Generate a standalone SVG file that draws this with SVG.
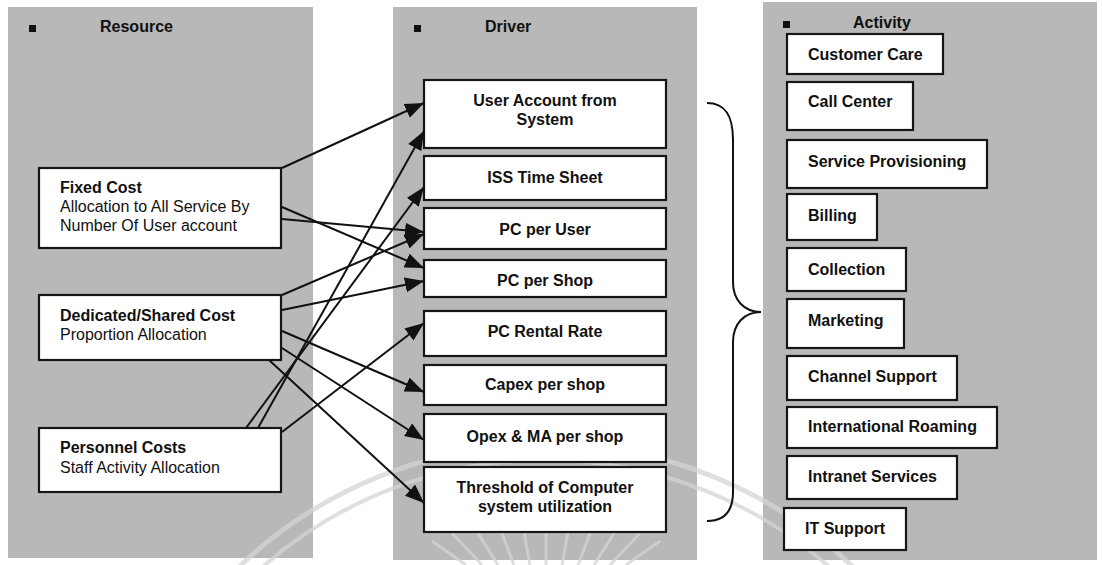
<svg xmlns="http://www.w3.org/2000/svg" width="1103" height="565" viewBox="0 0 1103 565">
  <style>
    .panel { fill: #b8b8b8; }
    .box { fill: #ffffff; stroke: #161616; stroke-width: 2.2; }
    .t { font-family: "Liberation Sans", Arial, sans-serif; font-size: 16px; fill: #111; }
    .b { font-weight: bold; }
    .c { text-anchor: middle; }
    .link { fill: none; stroke: #111; stroke-width: 2; marker-end: url(#arrow); }
    .brace { fill: none; stroke: #111; stroke-width: 2; }
    .bullet { fill: #111; }
    .seal { fill: none; stroke: #d4d4d4; opacity: 0.75; }
  </style>
  <defs>
    <marker id="arrow" markerUnits="userSpaceOnUse" markerWidth="20" markerHeight="16" refX="19" refY="7.5" orient="auto">
      <path d="M0,0 L19,7.5 L0,15 z" fill="#111"/>
    </marker>
  </defs>

  <rect width="1103" height="565" fill="#ffffff"/>

  <!-- column backgrounds -->
  <rect class="panel" x="8" y="7" width="305" height="551"/>
  <rect class="panel" x="393" y="7" width="304" height="553"/>
  <rect class="panel" x="763" y="2" width="334" height="558"/>

  <!-- faint seal printed across the lower part of the sheet -->
  <g id="seal">
    <circle class="seal" cx="546" cy="889" r="445" stroke-width="5"/>
    <circle class="seal" cx="546" cy="889" r="429" stroke-width="4"/>
    <g class="seal" stroke-width="3">
      <line x1="546" y1="565" x2="546" y2="520"/>
      <line x1="530" y1="565" x2="522" y2="521"/>
      <line x1="514" y1="565" x2="498" y2="523"/>
      <line x1="498" y1="565" x2="474" y2="527"/>
      <line x1="482" y1="565" x2="452" y2="533"/>
      <line x1="466" y1="565" x2="432" y2="541"/>
      <line x1="562" y1="565" x2="570" y2="521"/>
      <line x1="578" y1="565" x2="594" y2="523"/>
      <line x1="594" y1="565" x2="618" y2="527"/>
      <line x1="610" y1="565" x2="640" y2="533"/>
      <line x1="626" y1="565" x2="660" y2="541"/>
    </g>
  </g>

  <!-- column headers -->
  <g id="header-resource">
    <rect class="bullet" x="29" y="25" width="7" height="7"/>
    <text class="t b" x="100" y="32">Resource</text>
  </g>
  <g id="header-driver">
    <rect class="bullet" x="414" y="25" width="7" height="7"/>
    <text class="t b" x="485" y="32">Driver</text>
  </g>
  <g id="header-activity">
    <rect class="bullet" x="783" y="21" width="7" height="7"/>
    <text class="t b" x="853" y="28">Activity</text>
  </g>

  <!-- resources -->
  <g id="fixed-cost">
    <rect class="box" x="39" y="168" width="242" height="80"/>
    <text class="t b" x="60" y="193">Fixed Cost</text>
    <text class="t" x="60" y="212">Allocation to All Service By</text>
    <text class="t" x="60" y="231">Number Of User account</text>
  </g>
  <g id="dedicated-shared-cost">
    <rect class="box" x="39" y="295" width="242" height="65"/>
    <text class="t b" x="60" y="321">Dedicated/Shared Cost</text>
    <text class="t" x="60" y="340">Proportion Allocation</text>
  </g>
  <g id="personnel-costs">
    <rect class="box" x="39" y="428" width="242" height="64"/>
    <text class="t b" x="60" y="453">Personnel Costs</text>
    <text class="t" x="60" y="473">Staff Activity Allocation</text>
  </g>

  <!-- drivers -->
  <g id="user-account">
    <rect class="box" x="424" y="80" width="242" height="68"/>
    <text class="t b c" x="545" y="106">User Account from</text>
    <text class="t b c" x="545" y="125">System</text>
  </g>
  <g id="iss-time-sheet">
    <rect class="box" x="424" y="156" width="242" height="44"/>
    <text class="t b c" x="545" y="183">ISS Time Sheet</text>
  </g>
  <g id="pc-per-user">
    <rect class="box" x="424" y="208" width="242" height="41"/>
    <text class="t b c" x="545" y="235">PC per User</text>
  </g>
  <g id="pc-per-shop">
    <rect class="box" x="424" y="260" width="242" height="37"/>
    <text class="t b c" x="545" y="286">PC per Shop</text>
  </g>
  <g id="pc-rental-rate">
    <rect class="box" x="424" y="311" width="242" height="45"/>
    <text class="t b c" x="545" y="337">PC Rental Rate</text>
  </g>
  <g id="capex-per-shop">
    <rect class="box" x="424" y="365" width="242" height="40"/>
    <text class="t b c" x="545" y="390">Capex per shop</text>
  </g>
  <g id="opex-ma-per-shop">
    <rect class="box" x="424" y="414" width="242" height="48"/>
    <text class="t b c" x="545" y="442">Opex &amp; MA per shop</text>
  </g>
  <g id="threshold">
    <rect class="box" x="424" y="467" width="242" height="65"/>
    <text class="t b c" x="545" y="493">Threshold of Computer</text>
    <text class="t b c" x="545" y="512">system utilization</text>
  </g>

  <!-- activities -->
  <g id="customer-care">
    <rect class="box" x="787" y="34" width="156" height="40"/>
    <text class="t b" x="808" y="60">Customer Care</text>
  </g>
  <g id="call-center">
    <rect class="box" x="787" y="82" width="126" height="48"/>
    <text class="t b" x="808" y="107">Call Center</text>
  </g>
  <g id="service-provisioning">
    <rect class="box" x="787" y="140" width="200" height="48"/>
    <text class="t b" x="808" y="167">Service Provisioning</text>
  </g>
  <g id="billing">
    <rect class="box" x="787" y="194" width="90" height="46"/>
    <text class="t b" x="808" y="221">Billing</text>
  </g>
  <g id="collection">
    <rect class="box" x="787" y="248" width="119" height="43"/>
    <text class="t b" x="808" y="275">Collection</text>
  </g>
  <g id="marketing">
    <rect class="box" x="787" y="299" width="117" height="49"/>
    <text class="t b" x="808" y="326">Marketing</text>
  </g>
  <g id="channel-support">
    <rect class="box" x="787" y="356" width="170" height="44"/>
    <text class="t b" x="808" y="382">Channel Support</text>
  </g>
  <g id="international-roaming">
    <rect class="box" x="787" y="407" width="210" height="41"/>
    <text class="t b" x="808" y="432">International Roaming</text>
  </g>
  <g id="intranet-services">
    <rect class="box" x="787" y="456" width="170" height="43"/>
    <text class="t b" x="808" y="482">Intranet Services</text>
  </g>
  <g id="it-support">
    <rect class="box" x="784" y="508" width="122" height="42"/>
    <text class="t b" x="805" y="534">IT Support</text>
  </g>

  <!-- connectors: resource to driver, and the brace gathering the drivers -->
  <g id="connectors">
    <line class="link" x1="282" y1="168" x2="424" y2="103"/>
    <line class="link" x1="282" y1="207" x2="424" y2="268"/>
    <line class="link" x1="282" y1="219" x2="424" y2="232"/>
    <line class="link" x1="282" y1="295" x2="424" y2="234"/>
    <line class="link" x1="282" y1="310" x2="424" y2="281"/>
    <line class="link" x1="282" y1="331" x2="424" y2="392"/>
    <line class="link" x1="282" y1="348" x2="424" y2="440"/>
    <line class="link" x1="269" y1="360" x2="424" y2="503"/>
    <line class="link" x1="246" y1="428" x2="424" y2="187"/>
    <line class="link" x1="258" y1="428" x2="424" y2="131"/>
    <line class="link" x1="282" y1="432" x2="424" y2="323"/>
    <path class="brace" d="M707,103 C725,103 733,115 733,140 L733,282 C733,300 744,312 761,312 C744,312 733,324 733,342 L733,492 C733,510 725,521 707,521"/>
  </g>
</svg>
